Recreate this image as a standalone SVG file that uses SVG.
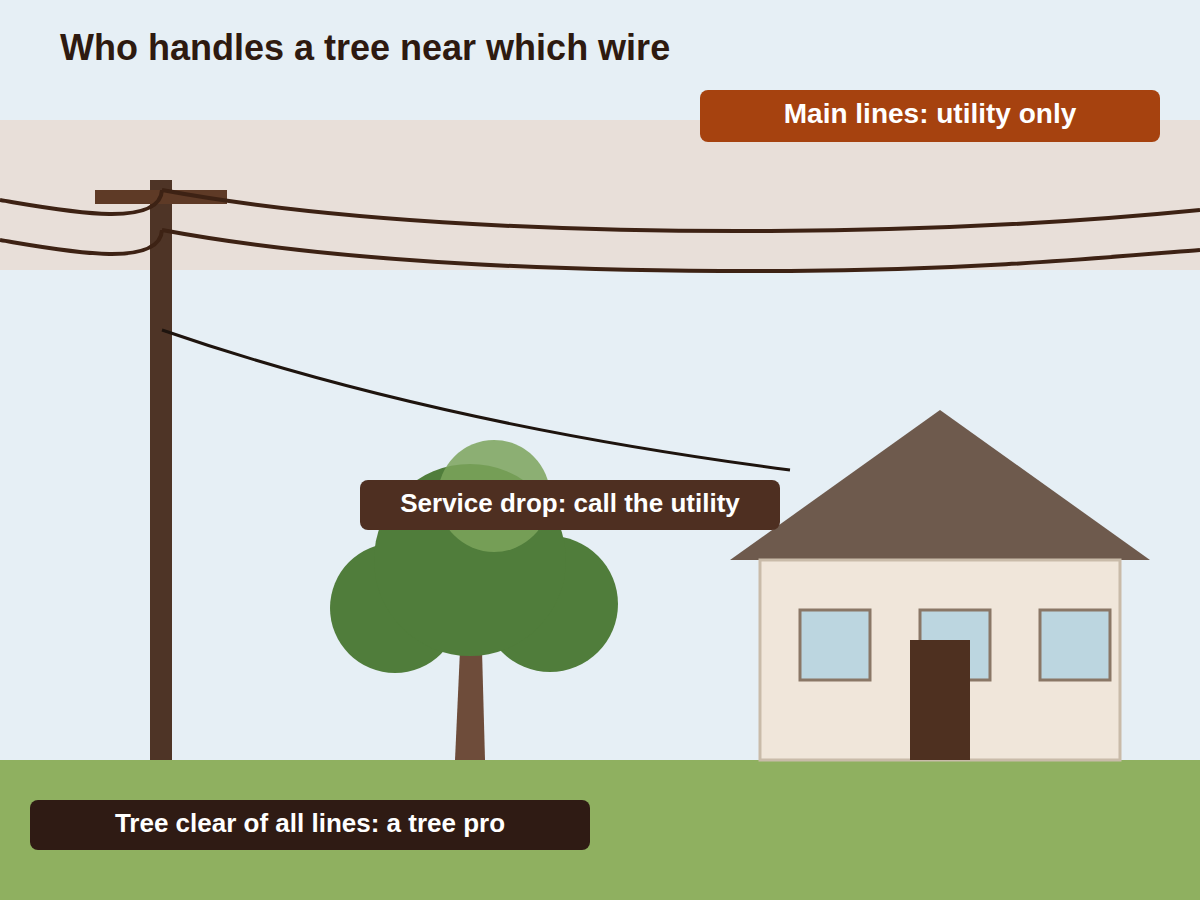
<svg xmlns="http://www.w3.org/2000/svg" width="1200" height="900" viewBox="0 0 1200 900">
<style>
.lbl{font-family:"Liberation Sans",Arial,sans-serif;font-weight:bold;fill:#ffffff;text-anchor:middle}
.w{fill:none;stroke:#3d2214;stroke-width:4}
.win{fill:#bcd6e0;stroke:#8a7766;stroke-width:3}
.leaf{fill:#507d3b}
</style>
<rect width="1200" height="900" fill="#e6eff5"/>
<rect x="0" y="120" width="1200" height="150" fill="#e8dfd9"/>
<text x="60" y="60" font-family="Liberation Sans,Arial,sans-serif" font-weight="bold" font-size="36" fill="#2e1a10">Who handles a tree near which wire</text>
<g id="pole">
<rect x="150" y="180" width="22" height="580" fill="#4e3426"/>
<rect x="95" y="190" width="132" height="14" fill="#5e3a26"/>
</g>
<rect x="0" y="760" width="1200" height="140" fill="#8fb060"/>
<g id="tree">
<polygon points="460,650 482,650 485,760 455,760" fill="#6e4c3a"/>
<circle class="leaf" cx="395" cy="608" r="65"/>
<circle class="leaf" cx="550" cy="604" r="68"/>
<circle class="leaf" cx="470" cy="560" r="96"/>
<circle cx="494" cy="496" r="56" fill="#7ba35c" opacity="0.85"/>
</g>
<g id="house">
<polygon points="730,560 940,410 1150,560" fill="#6e5a4d"/>
<rect x="760" y="560" width="360" height="200" fill="#f0e6da" stroke="#c9bba9" stroke-width="3"/>
<rect class="win" x="800" y="610" width="70" height="70"/>
<rect class="win" x="920" y="610" width="70" height="70"/>
<rect class="win" x="1040" y="610" width="70" height="70"/>
<rect x="910" y="640" width="60" height="120" fill="#4e3020"/>
</g>
<g id="connectors">
<path class="w" d="M0,200 C60,210 160,230 162,190"/>
<path class="w" d="M162,190 C350,225 600,232 770,231 C950,230 1100,220 1200,210"/>
<path class="w" d="M0,240 C60,250 160,270 162,230"/>
<path class="w" d="M162,230 C350,265 600,272 790,271 C970,270 1100,258 1200,250"/>
<path d="M162,330 C350,395 560,440 790,470" fill="none" stroke="#1e140e" stroke-width="3"/>
</g>
<g id="label-main">
<rect x="700" y="90" width="460" height="52" rx="8" fill="#a6420f"/>
<text class="lbl" x="930" y="123" font-size="28">Main lines: utility only</text>
</g>
<g id="label-service">
<rect x="360" y="480" width="420" height="50" rx="8" fill="#4e2f21"/>
<text class="lbl" x="570" y="512" font-size="26">Service drop: call the utility</text>
</g>
<g id="label-tree">
<rect x="30" y="800" width="560" height="50" rx="8" fill="#2f1b14"/>
<text class="lbl" x="310" y="832" font-size="26">Tree clear of all lines: a tree pro</text>
</g>
</svg>
